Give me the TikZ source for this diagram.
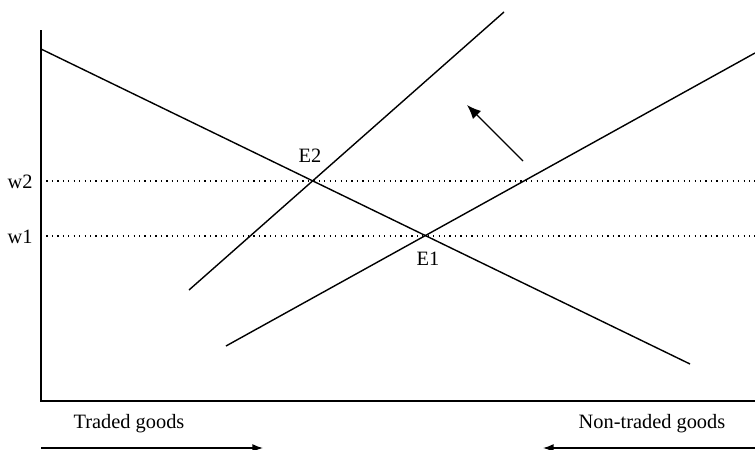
\documentclass[tikz,border=0pt]{standalone}
\usepackage{fontspec}
\setmainfont{Liberation Serif}
\usetikzlibrary{arrows.meta}
\begin{document}
\begin{tikzpicture}[x=0.02cm,y=-0.02cm,font=\fontsize{11.6}{14}\selectfont,>={Latex[length=6pt,width=4.5pt]},curve/.style={line width=0.8pt},level/.style={line width=0.6pt, dash pattern=on 0.7pt off 2.4pt},lbl/.style={inner sep=0pt}]
\useasboundingbox (0,0) rectangle (755,450);
\coordinate (ytop) at (41,30);\coordinate (O) at (41,401);\coordinate (xend) at (755,401);
\draw[curve] (ytop) -- (O) -- (xend);
% demand, old and new supply
\coordinate (d1) at (41,49);\coordinate (d2) at (690,364);\draw[curve] (d1) -- (d2);
\coordinate (s1) at (226,346);\coordinate (s2) at (755,53);\draw[curve] (s1) -- (s2);
\coordinate (n1) at (189,290);\coordinate (n2) at (504,12);\draw[curve] (n1) -- (n2);
\coordinate (E2) at (313,181);\coordinate (E1) at (425,236);
\draw[level] (41,181) -- (755,181);\draw[level] (41,236) -- (755,236);
\node[lbl] (w2) at (20,182) {w2};\node[lbl] (w1) at (20,237) {w1};
\node[lbl] (e2) at (310,156) {E2};\node[lbl] (e1) at (428,259) {E1};
\coordinate (a1) at (523,161);\coordinate (a2) at (467,105);\draw[->, line width=0.8pt, >={Latex[length=8pt,width=6.5pt]}] (a1) -- (a2);
\node[lbl] (traded) at (129,424) {Traded goods};\node[lbl] (nontraded) at (652,424) {Non-traded goods};
\coordinate (t1) at (41,448);\coordinate (t2) at (263,448);\draw[->, line width=0.8pt] (t1) -- (t2);
\coordinate (u1) at (755,448);\coordinate (u2) at (543,448);\draw[->, line width=0.8pt] (u1) -- (u2);
\end{tikzpicture}
\end{document}
